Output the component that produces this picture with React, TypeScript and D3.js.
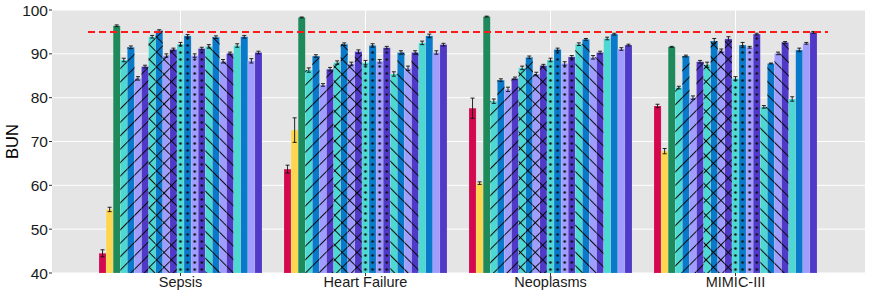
import React from "react";
import * as d3 from "d3";

const width = 872,
    height = 296;
const panel = {left: 52, right: 865, top: 10, bottom: 273};

const groups = ["Sepsis", "Heart Failure", "Neoplasms", "MIMIC-III"];

// 23 models per group: 3 plain baselines, then 4 hatched families of 4, then 4 plain
const models = d3.range(23).map((i) => "m" + (i + 1));
const colors = [
    "#d4084f", "#fdd54e", "#1e8a5c",
    "#4dd9d1", "#0979c9", "#a09dff", "#5039c6",
    "#4dd9d1", "#0979c9", "#a09dff", "#5039c6",
    "#4dd9d1", "#0979c9", "#a09dff", "#5039c6",
    "#4dd9d1", "#0979c9", "#a09dff", "#5039c6",
    "#4dd9d1", "#0979c9", "#a09dff", "#5039c6",
];
const patterns = [
    "none", "none", "none",
    "fwd", "fwd", "fwd", "fwd",
    "cross", "cross", "cross", "cross",
    "dots", "dots", "dots", "dots",
    "back", "back", "back", "back",
    "none", "none", "none", "none",
];

const sepsis = [44.5, 54.5, 96.4, 88.6, 91.5, 84.4, 87.1, 93.9, 95.3, 89.6, 91.0, 92.2, 94.1, 89.6, 91.2, 91.7, 93.8, 88.3, 90.1, 91.9, 93.9, 88.4, 90.3];
const heartFailure = [63.7, 72.6, 98.3, 86.3, 89.5, 82.9, 86.5, 88.0, 92.2, 87.7, 90.5, 88.0, 91.9, 88.3, 91.4, 85.4, 90.3, 86.7, 90.3, 92.5, 94.1, 90.3, 92.1];
const neoplasms = [77.6, 60.5, 98.5, 79.2, 84.0, 81.9, 84.4, 86.8, 89.2, 85.4, 87.3, 88.6, 91.0, 87.8, 89.3, 92.2, 93.3, 89.2, 90.3, 93.5, 94.5, 91.1, 92.0];
const mimic = [78.1, 67.8, 91.6, 82.3, 89.5, 80.0, 88.2, 87.5, 92.9, 90.7, 93.4, 84.4, 92.0, 91.5, 94.5, 77.9, 87.8, 90.1, 92.6, 79.7, 90.9, 92.4, 94.9];

const sepsisErr = [0.8, 0.5, 0.2, 0.4, 0.3, 0.4, 0.3, 0.3, 0.2, 0.4, 0.3, 0.4, 0.3, 0.4, 0.3, 0.4, 0.3, 0.4, 0.3, 0.4, 0.3, 0.5, 0.3];
const heartFailureErr = [0.9, 2.8, 0.1, 0.5, 0.3, 0.3, 0.4, 0.4, 0.3, 0.4, 0.4, 0.5, 0.4, 0.4, 0.3, 0.5, 0.4, 0.5, 0.4, 0.4, 0.4, 0.4, 0.3];
const neoplasmsErr = [2.3, 0.3, 0.1, 0.5, 0.3, 0.5, 0.3, 0.4, 0.3, 0.4, 0.3, 0.4, 0.3, 0.4, 0.3, 0.3, 0.2, 0.4, 0.3, 0.3, 0.2, 0.3, 0.2];
const mimicErr = [0.4, 0.6, 0.1, 0.3, 0.2, 0.4, 0.3, 0.6, 0.6, 0.4, 0.5, 0.4, 0.6, 0.2, 0.2, 0.3, 0.1, 0.3, 0.2, 0.5, 0.4, 0.2, 0.2];

const yTicks = [40, 50, 60, 70, 80, 90, 100];
const threshold = 95;

const values = [sepsis, heartFailure, neoplasms, mimic];
const errors = [sepsisErr, heartFailureErr, neoplasmsErr, mimicErr];

const App = () => {
    const xScale = d3.scaleBand().domain(groups).range([88, 828]).padding(0);
    const groupWidth = 163;
    const xInner = d3.scaleBand().domain(models).range([-groupWidth / 2, groupWidth / 2]);
    const yScale = d3.scaleLinear().domain([40, 100]).range([panel.bottom, panel.top]);
    const bw = xInner.bandwidth();
    const font = "'Liberation Sans', Arial, sans-serif";

    const firstDot = patterns.indexOf("dots");
    const hatch = "#0a0a0a";

    return (
        <svg width={width} height={height} style={{display: "block", position: "absolute", left: 0, top: 0}}>
            <defs>
                <pattern id="fwd" patternUnits="userSpaceOnUse" width="9.5" height="9.5" patternTransform="rotate(45)">
                    <line x1="0.5" y1="0" x2="0.5" y2="9.5" stroke={hatch} strokeWidth="1.05"/>
                </pattern>
                <pattern id="back" patternUnits="userSpaceOnUse" width="9.5" height="9.5" patternTransform="rotate(-45)">
                    <line x1="0.5" y1="0" x2="0.5" y2="9.5" stroke={hatch} strokeWidth="1.05"/>
                </pattern>
                <pattern id="crossA" patternUnits="userSpaceOnUse" width="10.5" height="10.5" patternTransform="rotate(45)">
                    <line x1="0.5" y1="0" x2="0.5" y2="10.5" stroke={hatch} strokeWidth="1"/>
                </pattern>
                <pattern id="crossB" patternUnits="userSpaceOnUse" width="10.5" height="10.5" patternTransform="rotate(-45)">
                    <line x1="0.5" y1="0" x2="0.5" y2="10.5" stroke={hatch} strokeWidth="1"/>
                </pattern>
                {groups.map((g, gi) => (
                    <pattern key={g} id={"dots" + gi} patternUnits="userSpaceOnUse"
                             x={xScale(g)! + xScale.bandwidth() / 2 + xInner(models[firstDot])!}
                             y={panel.bottom} width={bw} height="7">
                        <circle cx={bw / 2} cy="3.5" r="1.3" fill="#111"/>
                    </pattern>
                ))}
                <clipPath id="panelClip">
                    <rect x={panel.left} y={panel.top} width={panel.right - panel.left} height={panel.bottom - panel.top}/>
                </clipPath>
            </defs>

            <rect x={panel.left} y={panel.top} width={panel.right - panel.left}
                  height={panel.bottom - panel.top} fill="#e5e5e5"/>
            {yTicks.map((t) => (
                <line key={t} x1={panel.left} x2={panel.right} y1={yScale(t)} y2={yScale(t)} stroke="#fff" strokeWidth="1"/>
            ))}
            {groups.map((g) => {
                const cx = xScale(g)! + xScale.bandwidth() / 2;
                return <line key={g} x1={cx} x2={cx} y1={panel.top} y2={panel.bottom} stroke="#fff" strokeWidth="1"/>;
            })}

            <g clipPath="url(#panelClip)">
                {groups.map((g, gi) => {
                    const cx = xScale(g)! + xScale.bandwidth() / 2;
                    return (
                        <g key={g}>
                            {models.map((m, i) => {
                                const x = cx + xInner(m)!;
                                const v = values[gi][i];
                                const yTop = yScale(v);
                                const h = panel.bottom - yTop;
                                const p = patterns[i];
                                return (
                                    <g key={m}>
                                        <rect x={x} y={yTop} width={bw} height={h} fill={colors[i]}
                                              stroke="rgba(255,255,255,0.25)" strokeWidth="0.5"/>
                                        {p === "fwd" || p === "back" ? (
                                            <rect x={x} y={yTop} width={bw} height={h} fill={"url(#" + p + ")"}/>
                                        ) : null}
                                        {p === "cross" ? (
                                            <>
                                                <rect x={x} y={yTop} width={bw} height={h} fill="url(#crossA)"/>
                                                <rect x={x} y={yTop} width={bw} height={h} fill="url(#crossB)"/>
                                            </>
                                        ) : null}
                                        {p === "dots" ? (
                                            <rect x={x} y={yTop} width={bw} height={h} fill={"url(#dots" + gi + ")"}/>
                                        ) : null}
                                    </g>
                                );
                            })}
                            {models.map((m, i) => {
                                const x = cx + xInner(m)! + bw / 2;
                                const v = values[gi][i];
                                const e = errors[gi][i];
                                const y1 = yScale(v - e),
                                    y2 = yScale(v + e);
                                return (
                                    <g key={m + "err"} stroke="#111" strokeWidth="0.9">
                                        <line x1={x} x2={x} y1={y1} y2={y2}/>
                                        <line x1={x - 2} x2={x + 2} y1={y1} y2={y1}/>
                                        <line x1={x - 2} x2={x + 2} y1={y2} y2={y2}/>
                                    </g>
                                );
                            })}
                        </g>
                    );
                })}
            </g>

            <line x1={xScale.range()[0]} x2={xScale.range()[1]} y1={yScale(threshold)} y2={yScale(threshold)}
                  stroke="#ff1a1a" strokeWidth="2" strokeDasharray="7,4"/>

            {yTicks.map((t) => (
                <g key={t}>
                    <line x1={panel.left - 3} x2={panel.left} y1={yScale(t)} y2={yScale(t)} stroke="#333" strokeWidth="1"/>
                    <text x={panel.left - 4} y={yScale(t)} dy="0.36em" textAnchor="end" fontFamily={font}
                          fontSize="15.5" fill="#1a1a1a">{t}</text>
                </g>
            ))}
            {groups.map((g) => {
                const cx = xScale(g)! + xScale.bandwidth() / 2;
                return (
                    <g key={g}>
                        <line x1={cx} x2={cx} y1={panel.bottom} y2={panel.bottom + 3} stroke="#333" strokeWidth="1"/>
                        <text x={cx} y={287} textAnchor="middle" fontFamily={font} fontSize="14.5" fill="#1a1a1a">{g}</text>
                    </g>
                );
            })}
            <text transform={"translate(18," + (panel.top + panel.bottom) / 2 + ") rotate(-90)"} textAnchor="middle"
                  fontFamily={font} fontSize="16.5" fill="#000">BUN</text>
        </svg>
    );
};

export default App;
